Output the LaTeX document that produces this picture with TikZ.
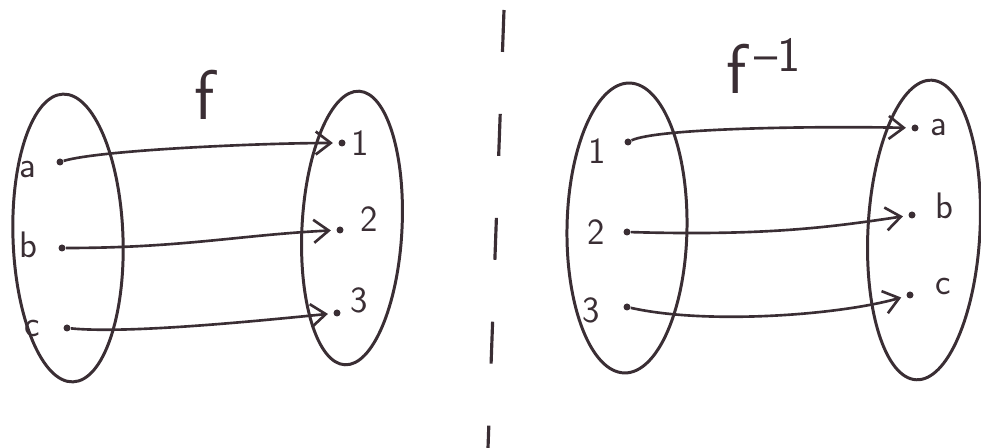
\documentclass[tikz,border=0pt]{standalone}
\usepackage{xcolor}
\usepackage{tikz}
\usetikzlibrary{shapes.geometric,arrows.meta,positioning}
\definecolor{ink}{RGB}{58,46,52}
\tikzstyle{setblob} = [ellipse, draw=ink, line width=1.7pt, inner sep=0pt]
\tikzstyle{pt} = [circle, fill=ink, inner sep=0pt, minimum size=1.4mm]
\tikzstyle{elem} = [inner sep=1pt, text=ink, font=\fontsize{21}{24}\selectfont\sffamily]
\tikzstyle{maparrow} = [draw=ink, line width=1.5pt,
    -{Straight Barb[length=3mm,width=4.6mm]}, shorten >=3pt]
\tikzstyle{sepline} = [draw=ink, line width=1.8pt, dash pattern=on 0.84cm off 1.24cm]

\begin{document}
\begin{tikzpicture}[x=0.02cm, y=-0.02cm]
\useasboundingbox (0,0) rectangle (981,448);

% ── Left: f ────
\node[setblob, minimum width=2.2cm, minimum height=5.76cm, rotate=2] (domA) at (68,238) {};
\node[setblob, minimum width=2.0cm, minimum height=5.48cm, rotate=-3] (codA) at (352,228) {};
\node[elem, font=\fontsize{40}{42}\selectfont\sffamily] (fname) at (205,95) {f};

\node[pt] (da) at (60,162) {};
\node[pt] (db) at (62,248) {};
\node[pt] (dc) at (67,328) {};
\node[pt] (r1) at (342,143) {};
\node[pt] (r2) at (340,230) {};
\node[pt] (r3) at (337,313) {};

\node[elem, left=0.36cm of da, yshift=-4pt] (la) {a};
\node[elem, left=0.38cm of db, yshift=2pt] (lb) {b};
\node[elem, left=0.42cm of dc] (lc) {c};
\node[elem, right=0.08cm of r1] (l1) {1};
\node[elem, right=0.3cm of r2, yshift=6pt] (l2) {2};
\node[elem, right=0.16cm of r3, yshift=7pt] (l3) {3};

\draw[maparrow] (da) .. controls +(40,-12) and +(-80,0) .. (r1);
\draw[maparrow] (db) .. controls +(120,0) and +(-100,5) .. (r2);
\draw[maparrow] (dc) .. controls +(60,6) and +(-80,8) .. (r3);

% ── Separator ────
\coordinate (septop) at (504,10);
\coordinate (sepbot) at (488,448);
\draw[sepline] (septop) -- (sepbot);

% ── Right: f inverse ────
\node[setblob, minimum width=2.4cm, minimum height=5.8cm, rotate=-1] (domB) at (627,228) {};
\node[setblob, minimum width=2.24cm, minimum height=6.0cm, rotate=-3] (codB) at (924,230) {};
\node[elem, font=\fontsize{40}{42}\selectfont\sffamily] (finv) at (764,66) {f\raisebox{0.2ex}{\textsuperscript{\,--1}}};

\node[pt] (s1) at (628,142) {};
\node[pt] (s2) at (627,232) {};
\node[pt] (s3) at (627,307) {};
\node[pt] (ta) at (915,128) {};
\node[pt] (tb) at (912,215) {};
\node[pt] (tc) at (910,295) {};

\node[elem, left=0.32cm of s1, yshift=-5pt] (m1) {1};
\node[elem, left=0.32cm of s2] (m2) {2};
\node[elem, left=0.42cm of s3, yshift=-2pt] (m3) {3};
\node[elem, right=0.2cm of ta] (ma) {a};
\node[elem, right=0.36cm of tb, yshift=5pt] (mb) {b};
\node[elem, right=0.4cm of tc, yshift=5pt] (mc) {c};

\draw[maparrow] (s1) .. controls +(30,-14) and +(-100,-2) .. (ta);
\draw[maparrow] (s2) .. controls +(140,4) and +(-80,12) .. (tb);
\draw[maparrow] (s3) .. controls +(80,18) and +(-70,20) .. (tc);

\end{tikzpicture}
\end{document}
